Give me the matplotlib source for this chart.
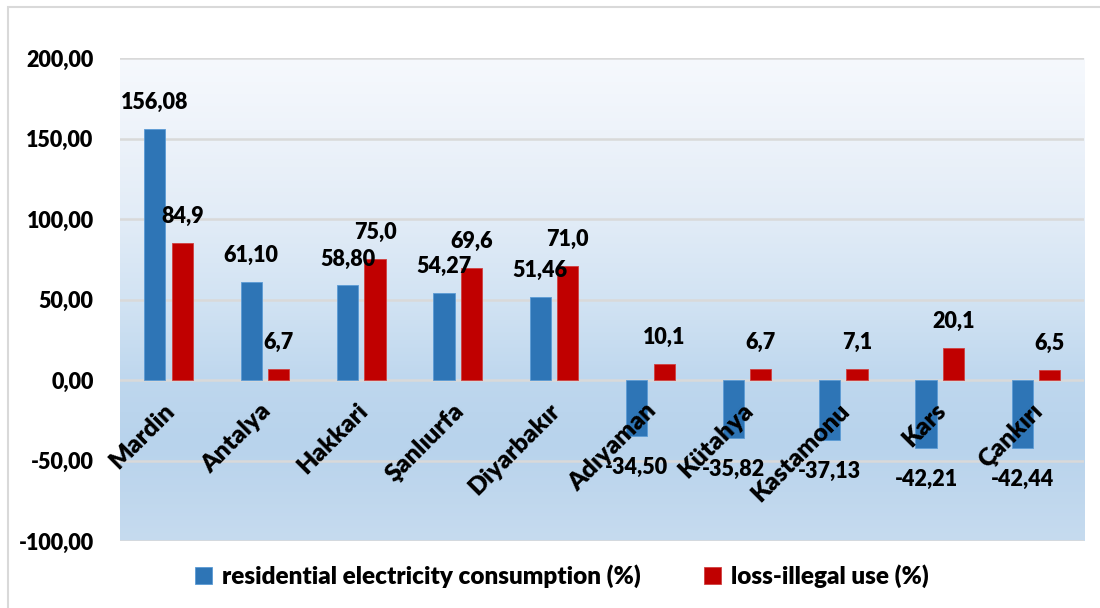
import numpy as np
import matplotlib
matplotlib.use('Agg')
import matplotlib.pyplot as plt
from matplotlib.colors import LinearSegmentedColormap
from matplotlib.patches import Rectangle

cities = ['Mardin', 'Antalya', 'Hakkari', 'Şanlıurfa', 'Diyarbakır',
          'Adıyaman', 'Kütahya', 'Kastamonu', 'Kars', 'Çankırı']
residential = [156.08, 61.10, 58.80, 54.27, 51.46, -34.50, -35.82, -37.13, -42.21, -42.44]
loss = [84.9, 6.7, 75.0, 69.6, 71.0, 10.1, 6.7, 7.1, 20.1, 6.5]
yticks = [-100, -50, 0, 50, 100, 150, 200]

BLUE = '#2E75B6'
RED = '#C00000'
FS = 15.5
W = 800
FAM = 'Lato'

fig = plt.figure(figsize=(11, 6.08), dpi=100)
ax = fig.add_axes([0.1091, 0.110, 0.8764, 0.7946])

# outer chart border
fig.patches.append(Rectangle((8 / 1100, -0.05), 1.1, 1 - 7 / 608 + 0.05,
                             transform=fig.transFigure, fill=False,
                             edgecolor='#D9D9D9', linewidth=1.5))

# gradient background of plot area
grad = LinearSegmentedColormap.from_list('bg', [
    (0.0, '#C6DBEF'), (0.2, '#B8D3EC'), (0.33, '#BED7EE'),
    (0.5, '#D2E3F3'), (0.67, '#E2ECF7'), (0.85, '#EEF3FA'), (1.0, '#F6F9FD')])
g = np.linspace(0, 1, 256).reshape(-1, 1)
ax.imshow(g, cmap=grad, aspect='auto', origin='lower',
          extent=[-0.5, len(cities) - 0.5, -100, 200], zorder=0)

x = np.arange(len(cities))
w = 0.22
b1 = ax.bar(x - 0.14, residential, w, color=BLUE, edgecolor='#5B9BD5', linewidth=0.6,
            zorder=3, label='residential electricity consumption (%)')
b2 = ax.bar(x + 0.145, loss, w, color=RED, edgecolor='#D04040', linewidth=0.6,
            zorder=3, label='loss-illegal use (%)')

for rect, v in zip(b1, residential):
    cx = rect.get_x() + rect.get_width() / 2
    txt = f'{v:.2f}'.replace('.', ',')
    if v >= 0:
        ax.annotate(txt, (cx, v), xytext=(0, 11.5), textcoords='offset points',
                    ha='center', va='bottom', fontsize=FS, family=FAM, fontweight=W, zorder=6)
    else:
        ax.annotate(txt, (cx, v), xytext=(0, -15), textcoords='offset points',
                    ha='center', va='top', fontsize=FS, family=FAM, fontweight=W, zorder=6)

for rect, v in zip(b2, loss):
    cx = rect.get_x() + rect.get_width() / 2
    txt = f'{v:.1f}'.replace('.', ',')
    ax.annotate(txt, (cx, v), xytext=(0, 11.5), textcoords='offset points',
                ha='center', va='bottom', fontsize=FS, family=FAM, fontweight=W, zorder=6)

# category labels at the zero line, rotated
for i, name in enumerate(cities):
    ax.annotate(name, (i - 0.05, 0), xytext=(0, -14), textcoords='offset points',
                ha='right', va='top', rotation=45, rotation_mode='anchor',
                fontsize=18, family=FAM, fontweight=W, zorder=5)

ax.set_xlim(-0.5, len(cities) - 0.5)
ax.set_ylim(-100, 200)
ax.set_yticks(yticks)
ax.set_yticklabels([f'{t:.2f}'.replace('.', ',') for t in yticks],
                   fontweight=W, family=FAM, fontsize=FS)
ax.set_xticks([])
ax.tick_params(axis='y', length=0, pad=19)
ax.grid(axis='y', color='#D9D9D9', linewidth=1.8)
for s in ax.spines.values():
    s.set_visible(False)
for gl in ax.get_ygridlines():
    gl.set_zorder(1)

leg = fig.legend(loc='center', bbox_to_anchor=(562 / 1100, 1 - 576 / 608), ncol=2,
                 frameon=False, handlelength=0.7, handleheight=0.7,
                 handletextpad=0.4, columnspacing=2.6,
                 prop={'family': FAM, 'weight': W, 'size': 17.5})

fig.savefig('out.png', dpi=100)
